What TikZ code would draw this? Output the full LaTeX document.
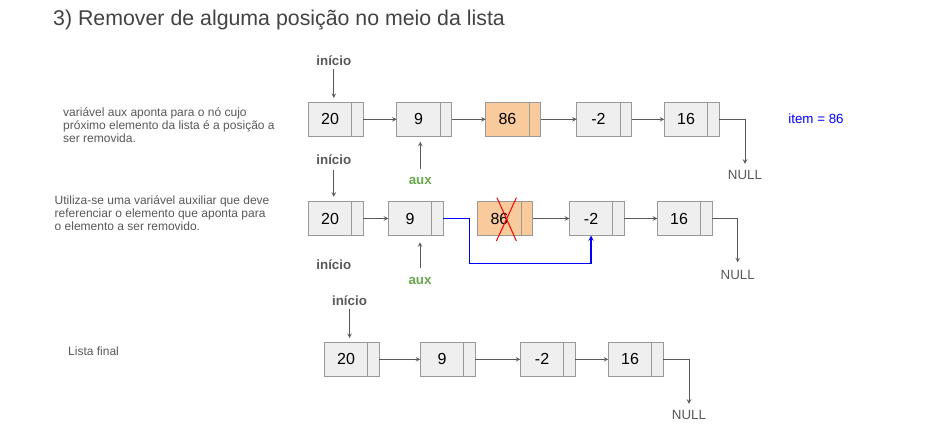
\documentclass[tikz,border=0pt]{standalone}
\usepackage{fontspec}
\setmainfont{Liberation Sans}
\usetikzlibrary{positioning}

\definecolor{cinzaborda}{HTML}{999999}
\definecolor{cinzafundo}{HTML}{EFEFEF}
\definecolor{cinzatexto}{HTML}{595959}
\definecolor{cinzatitulo}{HTML}{434343}
\definecolor{laranja}{HTML}{F9CB9C}
\definecolor{verdeaux}{HTML}{6AA84F}
\definecolor{azul}{HTML}{0000FF}
\definecolor{vermelho}{HTML}{FF0000}

\begin{document}
\begin{tikzpicture}[
        x=1pt, y=-1pt,
        >=stealth,
        dado/.style={rectangle, draw=cinzaborda, fill=cinzafundo, line width=1pt, minimum width=43.5pt, minimum height=34pt, inner sep=0pt, outer sep=0pt, font=\fontsize{16}{19}\selectfont},
        removido/.style={dado, fill=laranja},
        ponteiro/.style={dado, minimum width=11.5pt},
        ptrremovido/.style={ponteiro, fill=laranja},
        seta/.style={->, draw=cinzatexto, line width=1pt},
        inicio/.style={font=\fontsize{13.33}{16}\selectfont\bfseries, text=cinzatexto},
        rotuloaux/.style={font=\fontsize{13.33}{16}\selectfont\bfseries, text=verdeaux},
        nulo/.style={font=\fontsize{13.33}{16}\selectfont, text=cinzatexto},
        rotuloitem/.style={font=\fontsize{13.33}{16}\selectfont, text=azul},
        descricao/.style={font=\fontsize{12}{13.3}\selectfont, text=cinzatexto, align=left, anchor=west, inner sep=0pt},
        titulo/.style={font=\fontsize{21.33}{25}\selectfont, text=cinzatitulo, anchor=west, inner sep=0pt}
    ]

        \fill[white] (0,0) rectangle (939,423);
        \useasboundingbox (0,0) rectangle (939,423);

        % ==================================================
        % TITULO E TEXTOS
        % ==================================================

        \node[titulo] (tit) at (53,20) {3) Remover de alguma posição no meio da lista};

        \node[descricao] (desc1) at (63,125) {variável aux aponta para o nó cujo\\próximo elemento da lista é a posição a\\ser removida.};
        \node[descricao] (desc2) at (54.5,213.3) {Utiliza-se uma variável auxiliar que deve\\referenciar o elemento que aponta para\\o elemento a ser removido.};
        \node[descricao] (desc3) at (68,351) {Lista final};

        % ==================================================
        % LISTA 1
        % ==================================================

        % Elementos
        \node[dado] (a1d) at (330.05,119.3) {20};
        \node[ponteiro, right=0pt of a1d] (a1p) {};
        \node[dado] (a2d) at (418.45,119.3) {9};
        \node[ponteiro, right=0pt of a2d] (a2p) {};
        \node[removido] (a3d) at (507.45,119.3) {86};
        \node[ptrremovido, right=0pt of a3d] (a3p) {};
        \node[dado] (a4d) at (598.45,119.3) {-2};
        \node[ponteiro, right=0pt of a4d] (a4p) {};
        \node[dado] (a5d) at (686.05,119.3) {16};
        \node[ponteiro, right=0pt of a5d] (a5p) {};

        % Rotulos
        \node[inicio] (ini1) at (333.8,61) {início};
        \node[rotuloaux] (aux1) at (420.3,180.7) {aux};
        \node[nulo] (null1) at (745,175) {NULL};
        \node[rotuloitem] (item1) at (816,119) {item = 86};

        % Setas
        \draw[seta, shorten >=4.3pt] (ini1) -- (ini1 |- a1d.north);
        \draw[seta, shorten <=5pt, shorten >=5.4pt] (aux1) -- (aux1 |- a2d.south);
        \draw[seta] (a1p.east) -- (a2d.west);
        \draw[seta] (a2p.east) -- (a3d.west);
        \draw[seta] (a3p.east) -- (a4d.west);
        \draw[seta] (a4p.east) -- (a5d.west);
        \draw[seta, shorten >=3pt] (a5p.east) -| (null1.north);

        % ==================================================
        % LISTA 2
        % ==================================================

        % Elementos
        \node[dado] (b1d) at (330.05,218.5) {20};
        \node[ponteiro, right=0pt of b1d] (b1p) {};
        \node[dado] (b2d) at (410.05,218.5) {9};
        \node[ponteiro, right=0pt of b2d] (b2p) {};
        \node[removido] (b3d) at (499.45,218.5) {86};
        \node[ptrremovido, right=0pt of b3d] (b3p) {};
        \node[dado] (b4d) at (591.05,218.5) {-2};
        \node[ponteiro, right=0pt of b4d] (b4p) {};
        \node[dado] (b5d) at (679.05,218.5) {16};
        \node[ponteiro, right=0pt of b5d] (b5p) {};

        % X sobre o removido
        \draw[vermelho, line width=1pt] ([shift={(-2.45,-20.8)}]b3d.center) -- ([shift={(16.95,22.5)}]b3d.center);
        \draw[vermelho, line width=1pt] ([shift={(16.95,-20.8)}]b3d.center) -- ([shift={(-3.05,22.5)}]b3d.center);

        % Rotulos
        \node[inicio] (ini2) at (333.8,160) {início};
        \node[inicio] (ini2b) at (333.8,264.3) {início};
        \node[rotuloaux] (aux2) at (420,281) {aux};
        \node[nulo] (null2) at (737.7,275) {NULL};

        % Setas
        \draw[seta, shorten <=1.4pt, shorten >=4.8pt] (ini2) -- (ini2 |- b1d.north);
        \draw[seta, shorten <=5.8pt, shorten >=6.8pt] (aux2) -- (aux2 |- b2d.south);
        \draw[seta] (b1p.east) -- (b2d.west);
        \draw[seta] (b3p.east) -- (b4d.west);
        \draw[seta] (b4p.east) -- (b5d.west);
        \draw[seta, shorten >=4.5pt] (b5p.east) -| (null2.north);

        % Novo encadeamento
        \coordinate (desvio) at (469.3,263.3);
        \draw[->, draw=azul, line width=1.3pt] (b2p.east) -| (desvio) -| (b4d.south);

        % ==================================================
        % LISTA FINAL
        % ==================================================

        % Elementos
        \node[dado] (c1d) at (346.05,359.3) {20};
        \node[ponteiro, right=0pt of c1d] (c1p) {};
        \node[dado] (c2d) at (442.05,359.3) {9};
        \node[ponteiro, right=0pt of c2d] (c2p) {};
        \node[dado] (c3d) at (542.05,359.3) {-2};
        \node[ponteiro, right=0pt of c3d] (c3p) {};
        \node[dado] (c4d) at (630.05,359.3) {16};
        \node[ponteiro, right=0pt of c4d] (c4p) {};

        % Rotulos
        \node[inicio] (ini3) at (349.5,301) {início};
        \node[nulo] (null3) at (689,415) {NULL};

        % Setas
        \draw[seta, shorten >=4.3pt] (ini3) -- (ini3 |- c1d.north);
        \draw[seta] (c1p.east) -- (c2d.west);
        \draw[seta] (c2p.east) -- (c3d.west);
        \draw[seta] (c3p.east) -- (c4d.west);
        \draw[seta, shorten >=3pt] (c4p.east) -| (null3.north);

    \end{tikzpicture}
\end{document}
